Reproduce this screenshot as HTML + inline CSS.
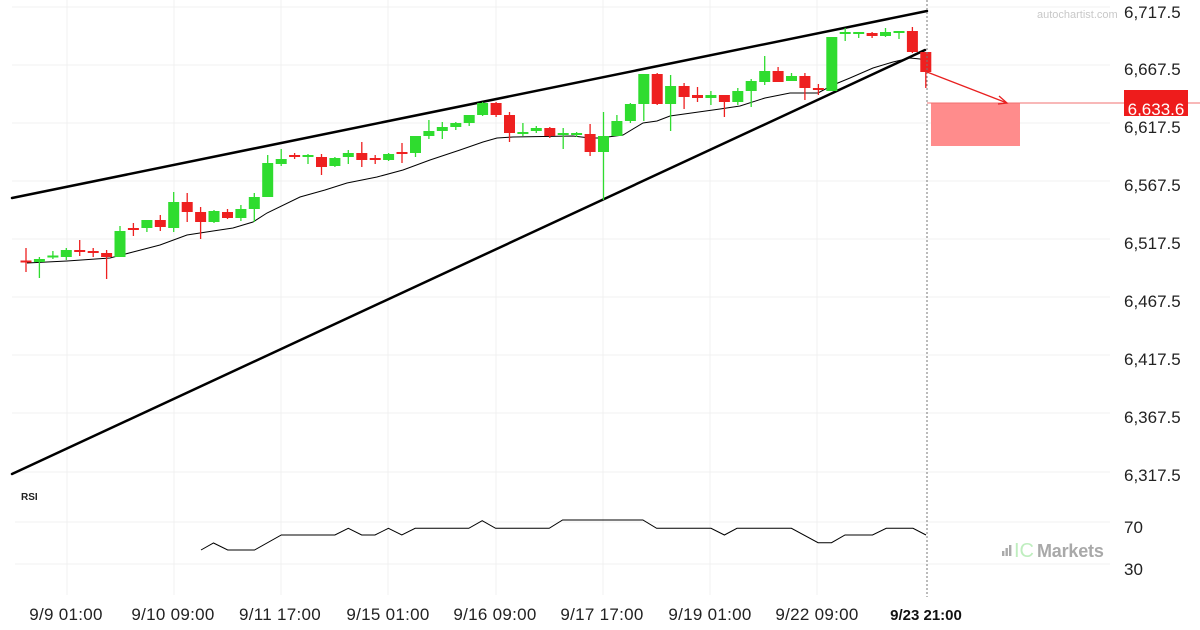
<!DOCTYPE html>
<html>
<head>
<meta charset="utf-8">
<style>
html,body{margin:0;padding:0;background:#fff;}
svg{display:block;}
text{font-family:"Liberation Sans",Arial,sans-serif;}
</style>
</head>
<body>
<svg width="1200" height="630" viewBox="0 0 1200 630" xmlns="http://www.w3.org/2000/svg">
<rect width="1200" height="630" fill="#fff"/>
<g stroke="#f0f0f0" stroke-width="1">
<path d="M12 7H1110M12 65H1110M12 123H1110M12 181H1110M12 239H1110M12 297H1110M12 355H1110M12 413H1110M12 472H1110"/>
<path d="M15 522H1110M15 564H1110"/>
<path d="M67 0V595M174 0V595M281 0V595M388 0V595M496 0V595M603 0V595M710 0V595M817 0V595"/>
</g>
<g stroke="#000" stroke-width="2.5" fill="none" stroke-linecap="round">
<line x1="12" y1="198" x2="927" y2="11"/>
<line x1="12" y1="474" x2="925" y2="50"/>
</g>
<polyline fill="none" stroke="#000" stroke-width="1" points="27,263 67,261 110,258 133,252 160,245 187,235 213,231 233,228 253,222 267,213 300,197 325,190 347,183 377,177 403,170 430,160 460,150 483,142 497,138 513,137 573,136 590,138 600,138 623,135 643,123 657,121 670,116 720,109 740,106 765,98 790,93 818,93 833,85 850,78 873,68 893,62 910,58 920,59 927,61"/>
<path stroke="#2fdc2f" stroke-width="1.3" fill="none" d="M39.4 257V278M52.9 251V259M66.3 248V260M120 226V257M146.9 220V232M173.7 192V232M214 210V223M240.9 205V221M254.3 193V222M267.7 155V197M281.2 149V166M308 154V164M334.9 157V167M348.3 150V164M388.6 153V161M415.5 136V157M428.9 120V139M442.3 122V139M455.8 122V130M469.2 115V126M482.6 102V116M522.9 123V136M536.3 126V133M563.2 128V149M576.6 132V137M603.5 112V200M616.9 115V136M630.4 103V123M643.8 74V121M670.6 75V131M710.9 91V105M737.8 88V105M751.2 79V107M764.7 56V85M791.5 73V81M831.8 37V91M845.2 28V41M858.7 32V38M885.5 28V37M899 31V39"/>
<g fill="#2fdc2f" transform="translate(-0.5,0)">
<rect x="34.4" y="259" width="11" height="3"/>
<rect x="47.9" y="255.5" width="11" height="2"/>
<rect x="61.3" y="250" width="11" height="7"/>
<rect x="115" y="231" width="11" height="26"/>
<rect x="141.9" y="220" width="11" height="8"/>
<rect x="168.7" y="202" width="11" height="26"/>
<rect x="209" y="211" width="11" height="11"/>
<rect x="235.9" y="209" width="11" height="9"/>
<rect x="249.3" y="197" width="11" height="12"/>
<rect x="262.7" y="163" width="11" height="34"/>
<rect x="276.2" y="159" width="11" height="5"/>
<rect x="303" y="155" width="11" height="2"/>
<rect x="329.9" y="158" width="11" height="8"/>
<rect x="343.3" y="153" width="11" height="4"/>
<rect x="383.6" y="154" width="11" height="6"/>
<rect x="410.5" y="136" width="11" height="17"/>
<rect x="423.9" y="131" width="11" height="5"/>
<rect x="437.3" y="127" width="11" height="4"/>
<rect x="450.8" y="123" width="11" height="4"/>
<rect x="464.2" y="115" width="11" height="8"/>
<rect x="477.6" y="103" width="11" height="12"/>
<rect x="517.9" y="132" width="11" height="2"/>
<rect x="531.3" y="128" width="11" height="3"/>
<rect x="558.2" y="133" width="11" height="2"/>
<rect x="571.6" y="133" width="11" height="2"/>
<rect x="598.5" y="136" width="11" height="16"/>
<rect x="611.9" y="121" width="11" height="15"/>
<rect x="625.4" y="104" width="11" height="17"/>
<rect x="638.8" y="74" width="11" height="30"/>
<rect x="665.6" y="86" width="11" height="18"/>
<rect x="705.9" y="95" width="11" height="3"/>
<rect x="732.8" y="91" width="11" height="11"/>
<rect x="746.2" y="81" width="11" height="10"/>
<rect x="759.7" y="71" width="11" height="11"/>
<rect x="786.5" y="76" width="11" height="5"/>
<rect x="826.8" y="37" width="11" height="54"/>
<rect x="840.2" y="32" width="11" height="2"/>
<rect x="853.7" y="32" width="11" height="2"/>
<rect x="880.5" y="32" width="11" height="4"/>
<rect x="894" y="31" width="11" height="2"/>
</g>
<path stroke="#ee2020" stroke-width="1.3" fill="none" d="M26 248V272M79.7 240V256M93.2 248V257M106.6 250V279M133.4 223V236M160.3 215V231M187.2 193V222M200.6 207V239M227.5 209V219M294.6 153V159M321.5 154V175M361.8 142V167M375.2 155V164M402 143V163M496.1 102V117M509.5 112V142M549.8 127V138M590.1 124V156M657.2 73V105M684.1 83V109M697.5 87V102M724.4 95V117M778.1 67V82M804.9 73V100M818.4 84V95M872.1 32V38M912.4 27V53M925.8 52V88"/>
<g fill="#ee2020" transform="translate(-0.5,0)">
<rect x="21" y="260.5" width="11" height="2"/>
<rect x="74.7" y="250" width="11" height="2"/>
<rect x="88.2" y="251" width="11" height="2"/>
<rect x="101.6" y="253" width="11" height="4"/>
<rect x="128.4" y="228" width="11" height="2"/>
<rect x="155.3" y="220" width="11" height="7"/>
<rect x="182.2" y="202" width="11" height="10"/>
<rect x="195.6" y="212" width="11" height="10"/>
<rect x="222.5" y="212" width="11" height="6"/>
<rect x="289.6" y="155" width="11" height="2"/>
<rect x="316.5" y="157" width="11" height="10"/>
<rect x="356.8" y="153" width="11" height="7"/>
<rect x="370.2" y="158" width="11" height="2"/>
<rect x="397" y="152" width="11" height="2"/>
<rect x="491.1" y="103" width="11" height="12"/>
<rect x="504.5" y="115" width="11" height="18"/>
<rect x="544.8" y="128" width="11" height="8"/>
<rect x="585.1" y="134" width="11" height="18"/>
<rect x="652.2" y="74" width="11" height="30"/>
<rect x="679.1" y="86" width="11" height="11"/>
<rect x="692.5" y="95" width="11" height="3"/>
<rect x="719.4" y="95" width="11" height="7"/>
<rect x="773.1" y="71" width="11" height="11"/>
<rect x="799.9" y="76" width="11" height="12"/>
<rect x="813.4" y="88" width="11" height="2"/>
<rect x="867.1" y="33" width="11" height="3"/>
<rect x="907.4" y="31" width="11" height="21"/>
<rect x="920.8" y="52" width="11" height="20"/>
</g>
<line x1="927" y1="0" x2="927" y2="597" stroke="#777" stroke-width="1" stroke-dasharray="2,2"/>
<rect x="931" y="103" width="89" height="43" fill="#ff8c8c"/>
<line x1="927" y1="103" x2="1200" y2="103" stroke="#f07070" stroke-width="1"/>
<g stroke="#e82020" stroke-width="1.3" fill="none">
<line x1="927" y1="72" x2="1007" y2="103"/>
<polyline points="999,96 1007,103 998,104"/>
</g>
<rect x="1124" y="90" width="64" height="26" fill="#ee1c1c"/>
<text x="1156" y="115" font-size="17" fill="#fff" text-anchor="middle">6,633.6</text>
<g font-size="17" fill="#222">
<text x="1124" y="18">6,717.5</text>
<text x="1124" y="75">6,667.5</text>
<text x="1124" y="133">6,617.5</text>
<text x="1124" y="191">6,567.5</text>
<text x="1124" y="249">6,517.5</text>
<text x="1124" y="307">6,467.5</text>
<text x="1124" y="365">6,417.5</text>
<text x="1124" y="423">6,367.5</text>
<text x="1124" y="481">6,317.5</text>
<text x="1124" y="533">70</text>
<text x="1124" y="575">30</text>
</g>
<text x="1037" y="18" font-size="11" fill="#c8c8c8">autochartist.com</text>
<text x="21" y="500" font-size="10" font-weight="bold" fill="#222">RSI</text>
<polyline fill="none" stroke="#000" stroke-width="1" points="201,550 213.5,543 227.7,550 254.5,550 281.3,535 334.9,535 348.3,528.3 361.7,535 375,535 388.4,528.3 401.8,535 415.2,528.3 468.8,528.3 482.2,520.7 495.6,528.3 549.2,528.3 562.6,520 642.9,520 656.6,528.3 711,528.3 724.4,535 737,528.3 791.4,528.3 818.1,542.7 831.5,542.7 845,535 872.5,535 886.3,528.3 913,528.3 926,535"/>
<rect x="1002" y="551" width="2.4" height="5" fill="#aaa"/>
<rect x="1005.5" y="548" width="2.4" height="8" fill="#aaa"/>
<rect x="1009" y="545" width="2.4" height="11" fill="#aaa"/>
<text x="1014" y="557" font-size="20" fill="#bfeebf">IC</text>
<text x="1037" y="557" font-size="18" font-weight="bold" fill="#a9a9a9" letter-spacing="-0.2">Markets</text>
<g font-size="17" fill="#222" text-anchor="middle" letter-spacing="0.3">
<text x="66" y="620">9/9 01:00</text>
<text x="173" y="620">9/10 09:00</text>
<text x="280" y="620">9/11 17:00</text>
<text x="388" y="620">9/15 01:00</text>
<text x="495" y="620">9/16 09:00</text>
<text x="602" y="620">9/17 17:00</text>
<text x="710" y="620">9/19 01:00</text>
<text x="817" y="620">9/22 09:00</text>
</g>
<text x="926" y="620" font-size="15" font-weight="bold" fill="#111" text-anchor="middle">9/23 21:00</text>
</svg>
</body>
</html>
